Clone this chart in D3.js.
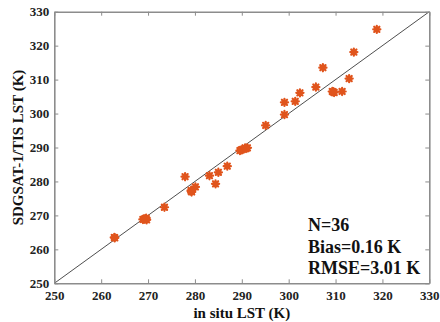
<!DOCTYPE html>
<html><head><meta charset="utf-8">
<script src="https://cdn.jsdelivr.net/npm/d3@7"></script>
<style>body{margin:0;background:#fff}svg{display:block}</style>
</head><body>
<svg id="c" width="440" height="322"></svg>
<script>
const insitu = [262.8,268.9,269.6,269.7,273.5,277.9,279.2,279.3,280.1,283.1,284.4,285.0,286.9,289.6,290.7,291.2,295.1,299.1,299.1,301.4,302.4,305.8,307.3,309.5,311.4,312.9,313.9,318.8,269.2,289.9,309.7,279.2,290.9,269.4,309.3,262.9];
const sdgsat = [263.5,268.8,269.2,268.7,272.4,281.4,277.4,276.9,278.4,281.7,279.3,282.7,284.5,289.1,289.9,289.9,296.5,303.3,299.7,303.6,306.1,307.8,313.5,306.4,306.5,310.3,318.1,324.8,268.9,289.3,306.2,277.1,289.7,269.0,306.5,263.4];
const ticks = [250,260,270,280,290,300,310,320,330];
const stats = ["N=36","Bias=0.16 K","RMSE=3.01 K"];

const svg = d3.select("#c");
const L=54.3,R=429.3,T=11.7,B=283.3;
const x = d3.scaleLinear().domain([250,330]).range([L,R]);
const y = d3.scaleLinear().domain([250,330]).range([B,T]);
const font = "'Liberation Serif','Times New Roman',serif";
const axCol = "#8c8c8c";

// 1:1 line
svg.append("line").attr("x1",x(250)).attr("y1",y(250)).attr("x2",x(330)).attr("y2",y(330))
  .attr("stroke","#3a3a3a").attr("stroke-width",0.9);

// points (asterisk)
const star = "M-3.6,0H3.6M0,-3.6V3.6M-2.6,-2.6L2.6,2.6M-2.6,2.6L2.6,-2.6";
svg.append("g").selectAll("path").data(insitu.map((d,i)=>[d,sdgsat[i]])).join("path")
  .attr("d",star).attr("transform",d=>`translate(${x(d[0])},${y(d[1])})`)
  .attr("stroke","#e0541c").attr("stroke-width",2.2).attr("fill","none").attr("stroke-linecap","round");

// axes
function styleAxis(g){
  g.select(".domain").attr("stroke",axCol).attr("stroke-width",1.6);
  g.selectAll(".tick line").attr("stroke",axCol).attr("stroke-width",1);
  g.selectAll("text").attr("font-family",font).attr("font-weight","bold").attr("font-size",13).attr("fill","#222");
}
svg.append("g").attr("transform",`translate(0,${B})`)
  .call(d3.axisBottom(x).tickValues(ticks).tickSizeInner(-4).tickSizeOuter(0).tickPadding(7)).call(styleAxis);
svg.append("g").attr("transform",`translate(${L},0)`)
  .call(d3.axisLeft(y).tickValues(ticks).tickSizeInner(-4).tickSizeOuter(0).tickPadding(5)).call(styleAxis);
svg.append("g").attr("transform",`translate(0,${T})`)
  .call(d3.axisTop(x).tickValues(ticks).tickSizeInner(-4).tickSizeOuter(0).tickFormat("")).call(styleAxis);
svg.append("g").attr("transform",`translate(${R},0)`)
  .call(d3.axisRight(y).tickValues(ticks).tickSizeInner(-4).tickSizeOuter(0).tickFormat("")).call(styleAxis);

// axis titles
svg.append("text").attr("x",(L+R)/2).attr("y",318).attr("text-anchor","middle")
  .attr("font-family",font).attr("font-weight","bold").attr("font-size",15).attr("fill","#111")
  .text("in situ LST (K)");
svg.append("text").attr("transform",`translate(23,${(T+B)/2}) rotate(-90)`).attr("text-anchor","middle")
  .attr("font-family",font).attr("font-weight","bold").attr("font-size",15).attr("fill","#111")
  .text("SDGSAT-1/TIS LST (K)");

// stats
svg.append("g").selectAll("text").data(stats).join("text")
  .attr("x",308).attr("y",(d,i)=>231+i*21.7)
  .attr("font-family",font).attr("font-weight","bold").attr("font-size",18).attr("fill","#111")
  .text(d=>d);
</script>
</body></html>
